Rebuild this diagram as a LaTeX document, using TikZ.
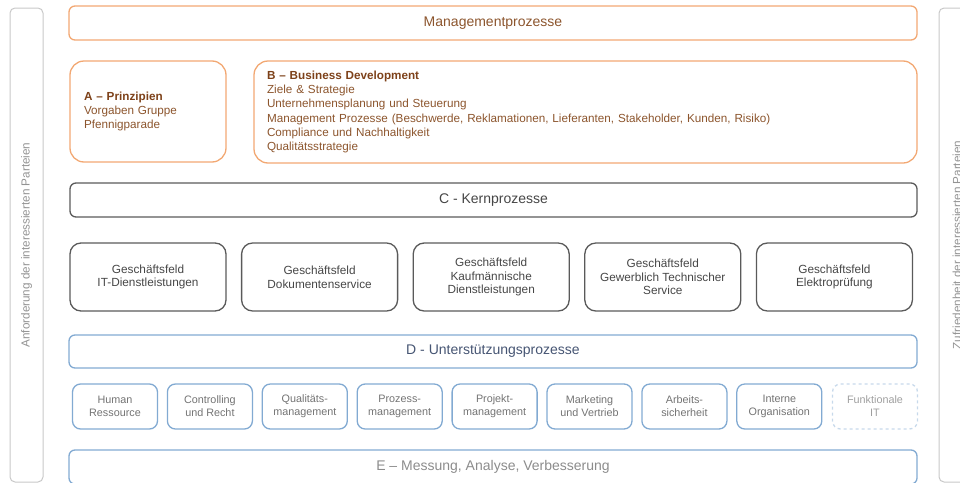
\documentclass[tikz,border=0pt]{standalone}
\usepackage{fontspec}
\setmainfont{Liberation Sans}
\usepackage{tikz}
\usetikzlibrary{positioning}

\definecolor{mgmtorange}{RGB}{242,168,115}
\definecolor{mgmttext}{RGB}{140,85,45}
\definecolor{mgmtdark}{RGB}{125,65,25}
\definecolor{coregray}{RGB}{90,90,90}
\definecolor{coretext}{RGB}{70,70,70}
\definecolor{supblue}{RGB}{130,170,210}
\definecolor{suptext}{RGB}{70,85,115}
\definecolor{sidegray}{RGB}{200,200,200}

\newcommand{\headfont}{\fontsize{14}{16}\selectfont}
\newcommand{\bodyfont}{\fontsize{11.7}{14.3}\selectfont}
\newcommand{\fieldfont}{\fontsize{11.8}{13.6}\selectfont}
\newcommand{\smallboxfont}{\fontsize{10.8}{13}\selectfont}

\tikzset{
    sidebar/.style={draw=sidegray, line width=1pt, rounded corners=5pt, text=gray!85, font=\fontsize{11.7}{14}\selectfont},
    mgmtbox/.style={draw=mgmtorange, line width=1.3pt, rounded corners=6pt, text=mgmttext, inner sep=0pt},
    corebox/.style={draw=coregray, line width=1.3pt, rounded corners=6pt, text=coretext, inner sep=0pt},
    fieldbox/.style={corebox, rounded corners=11pt, minimum width=156, minimum height=68, align=center, font=\fieldfont},
    supbox/.style={draw=supblue, line width=1.3pt, rounded corners=6pt, text=suptext, inner sep=0pt},
    unitbox/.style={supbox, rounded corners=8pt, minimum width=85, minimum height=45, align=center, text=gray!90!black, font=\smallboxfont}
}

\begin{document}
\begin{tikzpicture}[x=1pt, y=-1pt]
    \useasboundingbox (0,0) rectangle (960,482);

    % Parties on both sides
    \node[sidebar, minimum width=474, minimum height=33, rotate=90] (anforderung) at (26.5,245) {Anforderung der interessierten Parteien};
    \node[sidebar, minimum width=474, minimum height=36, rotate=90] (zufriedenheit) at (957,245) {Zufriedenheit der interessierten Parteien};

    % Management processes
    \node[mgmtbox, minimum width=848, minimum height=34, font=\headfont] (mgmt) at (493,23) {Managementprozesse};

    \node[mgmtbox, rounded corners=14pt, minimum width=156, minimum height=101, text width=128, align=left, inner xsep=14, font=\bodyfont] (prinzipien) at (148,111.5)
        {\textcolor{mgmtdark}{\textbf{A – Prinzipien}}\\Vorgaben Gruppe\\Pfennigparade};
    \node[mgmtbox, rounded corners=14pt, minimum width=663, minimum height=102, text width=637, align=left, inner xsep=13, font=\bodyfont] (business) at (585.5,112)
        {\textcolor{mgmtdark}{\textbf{B – Business Development}}\\Ziele \& Strategie\\Unternehmensplanung und Steuerung\\Management Prozesse (Beschwerde, Reklamationen, Lieferanten, Stakeholder, Kunden, Risiko)\\Compliance und Nachhaltigkeit\\Qualitätsstrategie};

    % Core processes
    \node[corebox, minimum width=847, minimum height=34, font=\headfont] (kern) at (493.5,200) {C - Kernprozesse};

    \foreach \i/\val in {0/{Geschäftsfeld\\IT-Dienstleistungen}, 1/{Geschäftsfeld\\Dokumentenservice}, 2/{Geschäftsfeld\\Kaufmännische\\Dienstleistungen}, 3/{Geschäftsfeld\\Gewerblich Technischer\\Service}, 4/{Geschäftsfeld\\Elektroprüfung}} {
        \node[fieldbox] (feld\i) at (148+\i*171.6,277) {\val};
    }

    % Support processes
    \node[supbox, minimum width=848, minimum height=33, font=\headfont] (support) at (493,351.5) {D - Unterstützungsprozesse};

    \foreach \i/\val in {0/{Human\\Ressource}, 1/{Controlling\\und Recht}, 2/{Qualitäts-\\management}, 3/{Prozess-\\management}, 4/{Projekt-\\management}, 5/{Marketing\\und Vertrieb}, 6/{Arbeits-\\sicherheit}, 7/{Interne\\Organisation}} {
        \node[unitbox] (unit\i) at (115+\i*94.9,406.5) {\val};
    }
    \node[unitbox, draw=supblue!45, dashed, text=gray!75] (unit8) at (875,406.5) {Funktionale\\IT};

    % Measurement
    \node[supbox, minimum width=848, minimum height=34, text=gray!90, font=\headfont] (messung) at (493,467) {E – Messung, Analyse, Verbesserung};
\end{tikzpicture}
\end{document}
